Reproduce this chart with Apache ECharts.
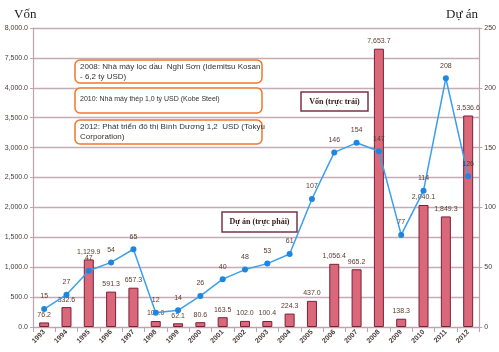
<!DOCTYPE html>
<html>
<head>
<meta charset="utf-8">
<style>
  html, body { margin: 0; padding: 0; background: #fff; }
  #chart { width: 499px; height: 352px; }
</style>
<script src="https://cdn.jsdelivr.net/npm/echarts@6/dist/echarts.min.js"></script>
</head>
<body>
<div id="chart"></div>
<script>
var years = ["1993", "1994", "1995", "1996", "1997", "1998", "1999", "2000", "2001", "2002",
  "2003", "2004", "2005", "2006", "2007", "2008", "2009", "2010", "2011", "2012"];
// Vốn (triệu USD), trục trái
var capital = [76.2, 332.6, 1129.9, 591.3, 657.3, 100.0, 62.1, 80.6, 163.5, 102.0,
  100.4, 224.3, 437.0, 1056.4, 965.2, 7653.7, 138.3, 2040.1, 1849.3, 3536.6];
// Số dự án, trục phải
var projects = [15, 27, 47, 54, 65, 12, 14, 26, 40, 48, 53, 61, 107, 146, 154, 147, 77, 114, 208, 126];

// trục trái bị ngắt: 4.000 -> 7.500
var BREAK_LO = 4000, BREAK_GAP = 3000;
function toAxis(v) { return v > BREAK_LO ? v - BREAK_GAP : v; }
function fromAxis(v) { return v > BREAK_LO ? v + BREAK_GAP : v; }
function fmt1(v) {
  return v.toLocaleString("en-US", { minimumFractionDigits: 1, maximumFractionDigits: 1 });
}

var labelColor = "#5a3a2e";
var font = "Liberation Sans";
var serif = "Liberation Serif";
var axisColor = "#bda3ae";

var chart = echarts.init(document.getElementById("chart"));
chart.setOption({
  animation: false,
  backgroundColor: "#fff",
  textStyle: { fontFamily: font },
  grid: { left: 33, right: 19, top: 28, bottom: 25 },
  xAxis: {
    type: "category",
    data: years,
    axisLine: { lineStyle: { color: axisColor, width: 1.2 } },
    axisTick: { show: true, lineStyle: { color: axisColor } },
    axisLabel: { rotate: 45, fontSize: 7, fontWeight: "bold", color: "#4a3a3a", margin: 4, interval: 0 }
  },
  yAxis: [
    {
      type: "value",
      min: 0,
      max: 5000,
      interval: 500,
      axisLine: { show: true, lineStyle: { color: axisColor, width: 1.2 } },
      axisTick: { show: true, length: 3, lineStyle: { color: axisColor } },
      splitLine: { lineStyle: { color: "#c3acb6", width: 1.3 } },
      axisLabel: {
        fontSize: 7, color: "#4a3a3a", margin: 5,
        formatter: function (v) { return fmt1(fromAxis(v)); }
      }
    },
    {
      type: "value",
      min: 0,
      max: 250,
      interval: 50,
      axisLine: { show: true, lineStyle: { color: axisColor, width: 1.2 } },
      axisTick: { show: true, length: 3, lineStyle: { color: axisColor } },
      splitLine: { show: false },
      axisLabel: { fontSize: 7, color: "#4a3a3a", margin: 5 }
    }
  ],
  series: [
    {
      name: "Vốn",
      type: "bar",
      yAxisIndex: 0,
      barWidth: 10,
      data: capital.map(toAxis),
      itemStyle: { color: "#d9687a", borderColor: "#7c1f36", borderWidth: 1 },
      label: {
        show: true, position: "top", fontSize: 7, color: labelColor, distance: 4,
        formatter: function (p) { return fmt1(capital[p.dataIndex]); }
      },
      z: 2
    },
    {
      name: "Dự án",
      type: "line",
      yAxisIndex: 1,
      data: projects,
      symbol: "circle",
      symbolSize: 6,
      lineStyle: { color: "#3aa0ee", width: 1.5 },
      itemStyle: { color: "#1f86e0" },
      label: { show: true, position: "top", fontSize: 7, color: labelColor, distance: 6 },
      z: 3
    }
  ],
  graphic: [
    { type: "text", left: 14, top: 8, style: { text: "Vốn", font: "13px " + serif, fill: "#222" } },
    { type: "text", left: 446, top: 8, style: { text: "Dự án", font: "13px " + serif, fill: "#222" } },
    {
      type: "rect", shape: { x: 75, y: 60, width: 187, height: 23, r: 5 },
      style: { fill: "#fff", stroke: "#f0782a", lineWidth: 1.5 }, z: 10
    },
    {
      type: "text", x: 80, y: 62, z: 11,
      style: { text: "2008: Nhà máy lọc dầu  Nghi Sơn (Idemitsu Kosan\n- 6,2 tỷ USD)", font: "8px " + font, fill: "#333", lineHeight: 10 }
    },
    {
      type: "rect", shape: { x: 75, y: 88, width: 187, height: 25, r: 5 },
      style: { fill: "#fff", stroke: "#f0782a", lineWidth: 1.5 }, z: 10
    },
    {
      type: "text", x: 80, y: 96, z: 11,
      style: { text: "2010: Nhà máy thép 1,0 tỷ USD (Kobe Steel)", font: "7px " + font, fill: "#333" }
    },
    {
      type: "rect", shape: { x: 75, y: 120, width: 187, height: 24, r: 5 },
      style: { fill: "#fff", stroke: "#f0782a", lineWidth: 1.5 }, z: 10
    },
    {
      type: "text", x: 80, y: 122, z: 11,
      style: { text: "2012: Phát triển đô thị Bình Dương 1,2  USD (Tokyu\nCorporation)", font: "8px " + font, fill: "#333", lineHeight: 10 }
    },
    {
      type: "rect", shape: { x: 301, y: 92, width: 67, height: 19 },
      style: { fill: "#fff", stroke: "#7a3446", lineWidth: 1.5 }, z: 10
    },
    {
      type: "text", x: 334.5, y: 101.5, z: 11,
      style: { text: "Vốn (trực trái)", font: "bold 8px " + serif, fill: "#3a1a1a", align: "center", verticalAlign: "middle" }
    },
    {
      type: "rect", shape: { x: 222, y: 212, width: 75, height: 20 },
      style: { fill: "#fff", stroke: "#7a3446", lineWidth: 1.5 }, z: 10
    },
    {
      type: "text", x: 259.5, y: 222, z: 11,
      style: { text: "Dự án (trực phải)", font: "bold 8px " + serif, fill: "#3a1a1a", align: "center", verticalAlign: "middle" }
    }
  ]
});
</script>
</body>
</html>
